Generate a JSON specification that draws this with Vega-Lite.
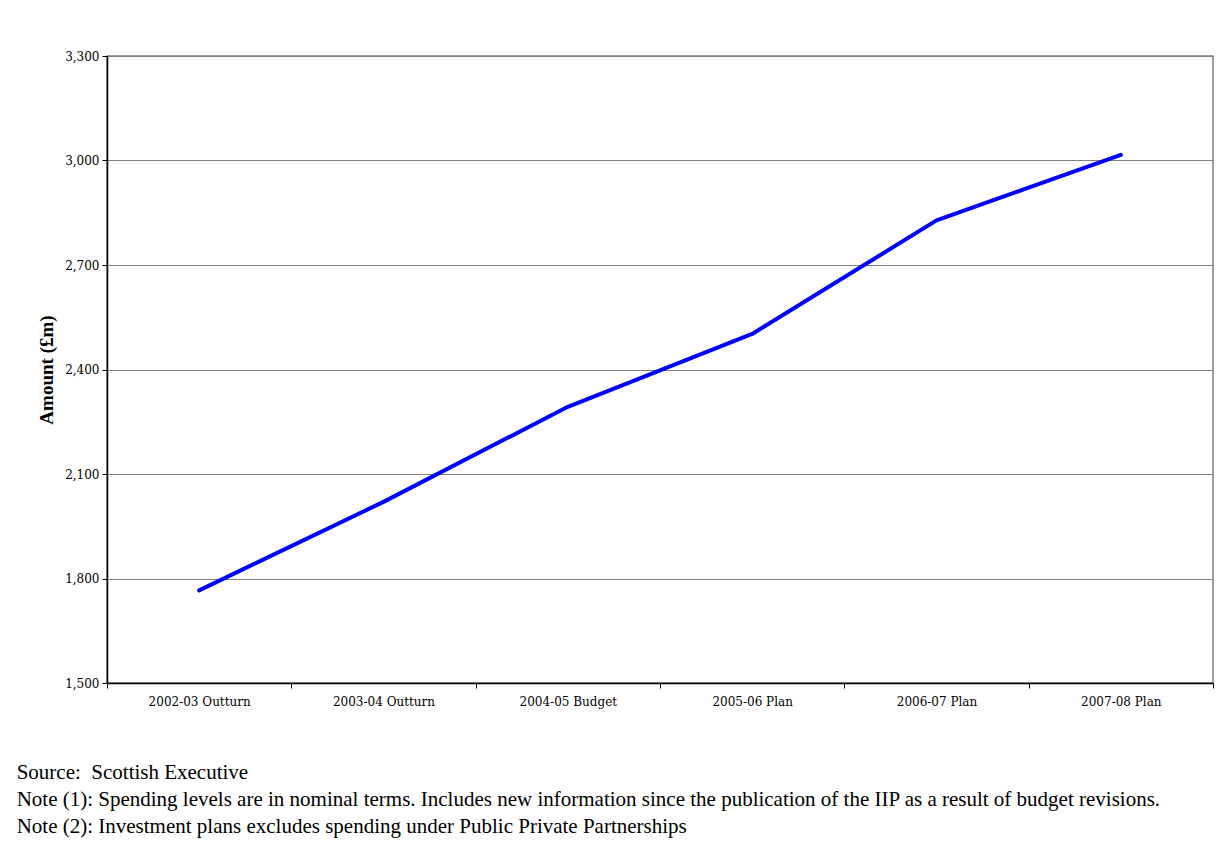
{
  "$schema": "https://vega.github.io/schema/vega-lite/v6.json",
  "width": 1106,
  "height": 627,
  "autosize": {"type": "none"},
  "padding": {"left": 107, "top": 56, "right": 13, "bottom": 166},
  "background": "white",
  "data": {
    "values": [
      {"period": "2002-03 Outturn", "amount": 1766},
      {"period": "2003-04 Outturn", "amount": 2020},
      {"period": "2004-05 Budget", "amount": 2293},
      {"period": "2005-06 Plan", "amount": 2502},
      {"period": "2006-07 Plan", "amount": 2828},
      {"period": "2007-08 Plan", "amount": 3016}
    ]
  },
  "title": {
    "text": [
      "Source:\u00a0 Scottish Executive",
      "Note (1): Spending levels are in nominal terms. Includes new information since the publication of the IIP as a result of budget revisions.",
      "Note (2): Investment plans excludes spending under Public Private Partnerships"
    ],
    "orient": "bottom",
    "anchor": "start",
    "frame": "bounds",
    "font": "Liberation Serif",
    "fontSize": 21,
    "fontWeight": "normal",
    "color": "#000000",
    "lineHeight": 27,
    "offset": 55,
    "dx": -21
  },
  "mark": {"type": "line", "color": "#0000FF", "strokeWidth": 4, "strokeCap": "round", "strokeJoin": "round"},
  "encoding": {
    "x": {
      "field": "period",
      "type": "ordinal",
      "sort": null,
      "scale": {"type": "band", "paddingInner": 0, "paddingOuter": 0},
      "axis": {
        "title": null,
        "labelAngle": 0,
        "tickBand": "extent",
        "labelFont": "DejaVu Serif",
        "labelFontSize": 12,
        "labelColor": "#000000",
        "labelPadding": 8,
        "domainColor": "#000000",
        "domainWidth": 1.5,
        "tickColor": "#000000",
        "tickSize": 5,
        "grid": false
      }
    },
    "y": {
      "field": "amount",
      "type": "quantitative",
      "scale": {"domain": [1500, 3300], "nice": false, "zero": false},
      "axis": {
        "title": "Amount (£m)",
        "titleFont": "Liberation Serif",
        "titleFontSize": 19,
        "titleFontWeight": "bold",
        "titleColor": "#000000",
        "titlePadding": 8,
        "values": [1500, 1800, 2100, 2400, 2700, 3000, 3300],
        "format": ",d",
        "labelFont": "DejaVu Serif",
        "labelFontSize": 12,
        "labelColor": "#000000",
        "labelPadding": 3,
        "domainColor": "#000000",
        "domainWidth": 1.5,
        "tickColor": "#000000",
        "tickSize": 5,
        "grid": true,
        "gridColor": "#808080",
        "gridWidth": 1,
        "gridOpacity": 1
      }
    }
  },
  "config": {
    "view": {"stroke": "#808080", "strokeWidth": 1.5}
  }
}
